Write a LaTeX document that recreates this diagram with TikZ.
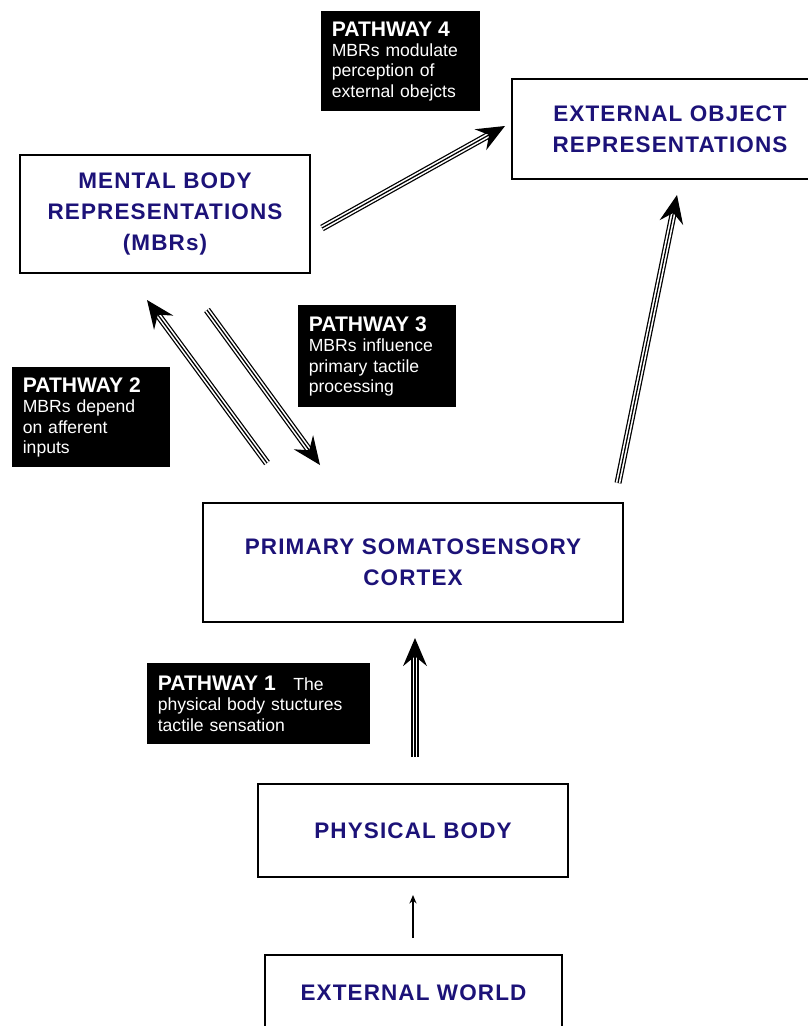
\documentclass[tikz,border=0pt]{standalone}
\usepackage{fontspec}
\setmainfont{Liberation Sans}
\newfontfamily\boxfont[LetterSpace=5]{Liberation Sans}
\usetikzlibrary{arrows.meta}
\definecolor{navy}{RGB}{28,18,120}

\begin{document}
\begin{tikzpicture}[x=0.025cm, y=-0.025cm,
    box/.style={draw, line width=1.2pt, text=navy, align=center,
      font=\boxfont\bfseries\fontsize{16}{22}\selectfont},
    pathway/.style={fill=black, text=white, align=left, anchor=north west,
      inner xsep=7.5pt, font=\fontsize{12.5}{14.5}\selectfont},
    tri/.style={draw=black, line width=5pt, shorten >=9pt,
      postaction={draw=white, line width=3.2pt, shorten >=9pt},
      postaction={draw=black, line width=0.9pt, shorten >=0pt,
        -{Stealth[length=20pt,width=17pt,inset=7pt]}}},
    thin/.style={line width=1pt, -{Stealth[length=6pt,width=5pt]}}]
    \useasboundingbox (0,0) rectangle (808,1026);

    \node[box, minimum width=7.25cm, minimum height=2.95cm] (mbr) at (165,214)
      {MENTAL BODY\\REPRESENTATIONS\\(MBRs)};
    \node[box, minimum width=7.9cm, minimum height=2.5cm] (eor) at (670,129)
      {EXTERNAL OBJECT\\REPRESENTATIONS};
    \node[box, minimum width=10.5cm, minimum height=2.975cm] (psc) at (413,562.5)
      {PRIMARY SOMATOSENSORY\\CORTEX};
    \node[box, minimum width=7.75cm, minimum height=2.325cm] (pb) at (413,830.5)
      {PHYSICAL BODY};
    \node[box, minimum width=7.425cm, minimum height=1.9cm] (ew) at (413.5,993)
      {EXTERNAL WORLD};

    \node[pathway, text width=3.45cm, minimum height=2.5cm] (pw4) at (321,11)
      {{\bfseries\fontsize{15}{17}\selectfont PATHWAY 4}\\MBRs modulate\\perception of\\external obejcts};
    \node[pathway, text width=3.42cm, minimum height=2.55cm] (pw3) at (298,305)
      {{\bfseries\fontsize{15}{17}\selectfont PATHWAY 3}\\MBRs influence\\primary tactile\\processing};
    \node[pathway, text width=3.42cm, minimum height=2.5cm] (pw2) at (12,367)
      {{\bfseries\fontsize{15}{17}\selectfont PATHWAY 2}\\MBRs depend\\on afferent\\inputs};
    \node[pathway, text width=5.05cm, minimum height=2.025cm] (pw1) at (147,663)
      {{\bfseries\fontsize{15}{17}\selectfont PATHWAY 1}\quad The\\physical body stuctures\\tactile sensation};

    \coordinate (p1 tail) at (415,757);
    \coordinate (p1 head) at (415,638);
    \coordinate (p2 tail) at (267,463);
    \coordinate (p2 head) at (147,300);
    \coordinate (p3 tail) at (207,310);
    \coordinate (p3 head) at (320,465);
    \coordinate (p4 tail) at (322,228);
    \coordinate (p4 head) at (505,126);
    \coordinate (eo tail) at (618,483);
    \coordinate (eo head) at (677,195);
    \coordinate (ew tail) at (413,938);
    \coordinate (ew head) at (413,895);

    \draw[tri] (p1 tail) -- (p1 head);
    \draw[tri] (p2 tail) -- (p2 head);
    \draw[tri] (p3 tail) -- (p3 head);
    \draw[tri] (p4 tail) -- (p4 head);
    \draw[tri] (eo tail) -- (eo head);
    \draw[thin] (ew tail) -- (ew head);
  \end{tikzpicture}
\end{document}
